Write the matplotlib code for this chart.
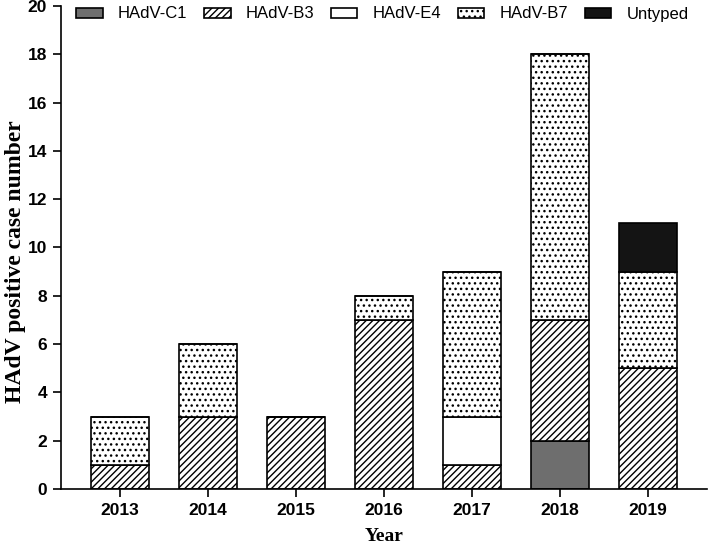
import matplotlib
matplotlib.use("Agg")
import matplotlib.pyplot as plt
import numpy as np

years = ["2013", "2014", "2015", "2016", "2017", "2018", "2019"]
c1 = [0, 0, 0, 0, 0, 2, 0]
b3 = [1, 3, 3, 7, 1, 5, 5]
e4 = [0, 0, 0, 0, 2, 0, 0]
b7 = [2, 3, 0, 1, 6, 11, 4]
untyped = [0, 0, 0, 0, 0, 0, 2]

series = [
    ("HAdV-C1", c1, "#6e6e6e", ""),
    ("HAdV-B3", b3, "white", "/////"),
    ("HAdV-E4", e4, "white", ""),
    ("HAdV-B7", b7, "white", "..."),
    ("Untyped", untyped, "#141414", ""),
]

plt.rcParams["hatch.linewidth"] = 1.0
plt.rcParams["font.family"] = "Liberation Sans"

fig = plt.figure(figsize=(7.09, 5.49), dpi=100)
ax = fig.add_axes([61 / 709, 1 - 489 / 549, 646 / 709, 483 / 549])

x = np.arange(len(years))
bottom = np.zeros(len(years))
handles = []
for name, vals, color, hatch in series:
    vals = np.array(vals, dtype=float)
    bars = ax.bar(x, vals, width=0.66, bottom=bottom, color=color,
                  edgecolor="black", linewidth=1.2, hatch=hatch, label=name)
    handles.append(bars)
    bottom += vals

ax.set_xlim(-0.67, 6.67)
ax.set_ylim(0, 20)
ax.set_yticks(range(0, 21, 2))
ax.set_xticks(x)
ax.set_xticklabels(years)

for side in ["top", "right"]:
    ax.spines[side].set_visible(False)
for side in ["left", "bottom"]:
    ax.spines[side].set_linewidth(1.2)
ax.tick_params(axis="both", width=1.2, length=6, labelsize=12.5, pad=4)
for lab in ax.get_xticklabels() + ax.get_yticklabels():
    lab.set_fontweight("bold")

ax.set_xlabel("Year", family="Liberation Serif", fontweight="bold",
              fontsize=14)
ax.xaxis.set_label_coords(0.5, -(528 - 489) / 483)
ax.set_ylabel("HAdV positive case number", family="Liberation Serif",
              fontweight="bold", fontsize=17)
ax.yaxis.set_label_coords(-(61 - 16) / 646, 0.47)
ax.yaxis.label.set_va("center")

fig.legend(handles=handles, loc="center left",
           bbox_to_anchor=(76 / 709, 1 - 14 / 549), ncol=5, frameon=False,
           fontsize=12, handlelength=1.6, handleheight=0.55,
           handletextpad=0.9, columnspacing=1.0, borderpad=0,
           borderaxespad=0)

fig.savefig("out.png", dpi=100)
